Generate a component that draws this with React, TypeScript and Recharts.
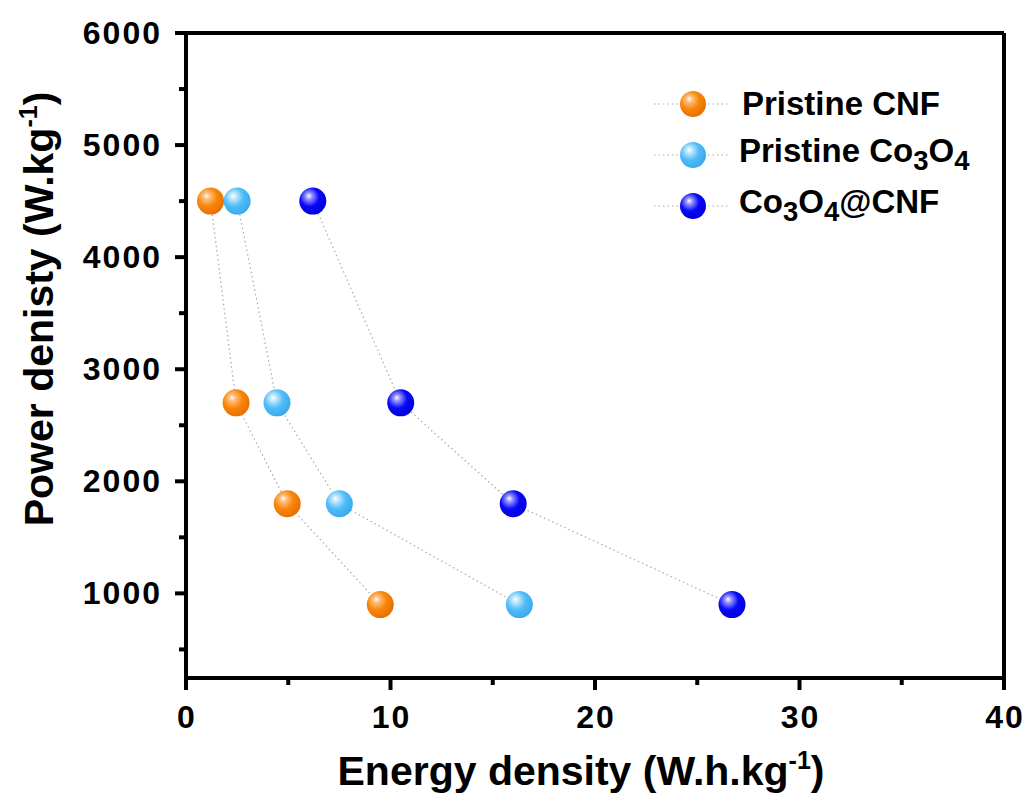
import { ScatterChart, Scatter, XAxis, YAxis, ReferenceLine, Legend } from 'recharts'

const FONT = '"Liberation Sans", Arial, sans-serif'

// power density levels shared by all three samples (W/kg)
const power = [4500, 2700, 1800, 900]

// energy density (Wh/kg)
const cnfEnergy = [1.2, 2.45, 4.95, 9.5]
const co3o4Energy = [2.5, 4.45, 7.5, 16.3]
const compositeEnergy = [6.2, 10.5, 16.0, 26.7]

const xTicks = [0, 5, 10, 15, 20, 25, 30, 35, 40]
const yTicks = [500, 1000, 1500, 2000, 2500, 3000, 3500, 4000, 4500, 5000, 5500, 6000]

const toPoints = (xs: number[]) => xs.map((x, i) => ({ x, y: power[i] }))

const series = [
  { key: 'cnf', data: toPoints(cnfEnergy), grad: 'g-orange', label: <>Pristine CNF</> },
  {
    key: 'co3o4',
    data: toPoints(co3o4Energy),
    grad: 'g-sky',
    label: <>Pristine Co<sub>3</sub>O<sub>4</sub></>,
  },
  {
    key: 'composite',
    data: toPoints(compositeEnergy),
    grad: 'g-blue',
    label: <>Co<sub>3</sub>O<sub>4</sub>@CNF</>,
  },
]

const Ball = (props: any) => {
  const { cx, cy } = props
  if (cx == null || cy == null) return null
  return <circle cx={cx} cy={cy} r={13.5} fill={`url(#${props.grad})`} />
}

const XTick = (props: any) => {
  const { x, y, payload } = props
  const major = payload.value % 10 === 0
  return (
    <g>
      <line x1={x} x2={x} y1={y} y2={y + (major ? 12 : 7)} stroke="#000" strokeWidth={4} />
      {major && (
        <text
          x={x + 1}
          y={y + 50}
          textAnchor="middle"
          fontFamily={FONT}
          fontWeight="bold"
          fontSize={32}
          letterSpacing={2}
          fill="#000"
        >
          {payload.value}
        </text>
      )}
    </g>
  )
}

const YTick = (props: any) => {
  const { x, y, payload } = props
  const major = payload.value % 1000 === 0
  return (
    <g>
      <line x1={x} x2={x - (major ? 11 : 7)} y1={y} y2={y} stroke="#000" strokeWidth={4} />
      {major && (
        <text
          x={x - 24}
          y={y + 11}
          textAnchor="end"
          fontFamily={FONT}
          fontWeight="bold"
          fontSize={32}
          letterSpacing={2}
          fill="#000"
        >
          {payload.value}
        </text>
      )}
    </g>
  )
}

const LegendBox = () => (
  <div style={{ fontFamily: FONT, fontWeight: 'bold', fontSize: 33, color: '#000' }}>
    {series.map((s, i) => (
      <div key={s.key} style={{ display: 'flex', alignItems: 'center', height: 51, lineHeight: 1 }}>
        <svg width={80} height={40} style={{ flex: 'none' }}>
          <line x1={2} x2={78} y1={20} y2={20} stroke="#aaa" strokeWidth={1.2} strokeDasharray="1.5 3" />
          <circle cx={41} cy={20} r={13} fill={`url(#${s.grad})`} />
        </svg>
        <span style={{ marginLeft: i === 0 ? 10 : 7, whiteSpace: 'nowrap' }}>{s.label}</span>
      </div>
    ))}
  </div>
)

const sphere = (id: string, hi: string, mid: string, base: string) => (
  <radialGradient id={id} cx="40%" cy="38%" r="65%" fx="35%" fy="30%">
    <stop offset="0%" stopColor="#fff" />
    <stop offset="18%" stopColor={hi} />
    <stop offset="55%" stopColor={mid} />
    <stop offset="100%" stopColor={base} />
  </radialGradient>
)

export default function App() {
  return (
    <div style={{ position: 'absolute', left: 0, top: 0, width: 1028, height: 800, background: '#fff' }}>
      <ScatterChart width={1028} height={800} margin={{ top: 33, right: 24, bottom: 0, left: 0 }}>
        <defs>
          {sphere('g-orange', '#ffc080', '#f8860a', '#e86e00')}
          {sphere('g-sky', '#c0e8ff', '#50bcf8', '#38a8ee')}
          {sphere('g-blue', '#9898ff', '#0808f8', '#0000d8')}
        </defs>
        <XAxis
          type="number"
          dataKey="x"
          domain={[0, 40]}
          ticks={xTicks}
          interval={0}
          height={122}
          tickSize={0}
          tickMargin={0}
          axisLine={{ stroke: '#000', strokeWidth: 4 }}
          tickLine={false}
          tick={<XTick />}
          label={{
            content: () => (
              <text x={581} y={785} textAnchor="middle" fontFamily={FONT} fontWeight="bold" fontSize={41} fill="#000">
                Energy density (W.h.kg<tspan dy={-16} fontSize={25}>-1</tspan>
                <tspan dy={16}>)</tspan>
              </text>
            ),
          }}
        />
        <YAxis
          type="number"
          dataKey="y"
          domain={[245, 6000]}
          allowDataOverflow
          ticks={yTicks}
          interval={0}
          width={186}
          tickSize={0}
          tickMargin={0}
          axisLine={{ stroke: '#000', strokeWidth: 4 }}
          tickLine={false}
          tick={<YTick />}
          label={{
            content: () => (
              <text
                transform="translate(53,309) rotate(-90)"
                textAnchor="middle"
                fontFamily={FONT}
                fontWeight="bold"
                fontSize={41}
                fill="#000"
              >
                Power denisty (W.kg<tspan dy={-16} fontSize={25}>-1</tspan>
                <tspan dy={16}>)</tspan>
              </text>
            ),
          }}
        />
        <ReferenceLine y={6000} stroke="#000" strokeWidth={4} />
        <ReferenceLine x={40} stroke="#000" strokeWidth={4} />
        <Legend
          layout="horizontal"
          verticalAlign="middle"
          align="center"
          content={<LegendBox />}
          wrapperStyle={{ top: 78, left: 652, width: 350 }}
        />
        {series.map((s) => (
          <Scatter
            key={s.key}
            data={s.data}
            isAnimationActive={false}
            line={{ stroke: '#aaa', strokeWidth: 1.2, strokeDasharray: '1.5 3' }}
            lineType="joint"
            shape={(p: any) => <Ball {...p} grad={s.grad} />}
          />
        ))}
      </ScatterChart>
    </div>
  )
}
